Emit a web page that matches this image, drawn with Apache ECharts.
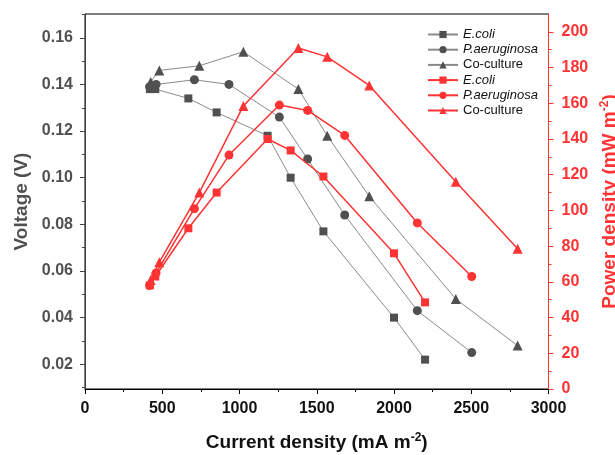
<!DOCTYPE html>
<html>
<head>
<meta charset="utf-8">
<script src="https://cdn.jsdelivr.net/npm/echarts@6/dist/echarts.min.js"></script>
<style>html,body{margin:0;padding:0;background:#fff;}#c{width:615px;height:455px;}</style>
</head>
<body>
<div id="c"></div>
<script>
// Current density (mA m-2)
const ecoliI = [420, 455, 669, 852, 1182, 1331, 1543, 2000, 2201];
const paI = [418, 460, 708, 932, 1258, 1441, 1681, 2151, 2503];
const coI = [425, 481, 740, 1025, 1381, 1568, 1840, 2400, 2800];
// Voltage (V)
const ecoliV = [0.138, 0.138, 0.134, 0.128, 0.118, 0.100, 0.077, 0.040, 0.022];
const paV = [0.139, 0.140, 0.142, 0.140, 0.126, 0.108, 0.084, 0.043, 0.025];
const coV = [0.141, 0.146, 0.148, 0.154, 0.138, 0.118, 0.092, 0.048, 0.028];
// Power density (mW m-2)
const ecoliP = [58, 63, 90, 110, 140, 133.6, 119, 76, 48.5];
const paP = [58, 65, 101, 131, 159, 156, 142, 93, 63];
const coP = [61, 71, 110, 158.5, 191, 186, 170, 116, 78.5];
// Tick labels
const xTicks = [0, 500, 1000, 1500, 2000, 2500, 3000];
const vTicks = [0.02, 0.04, 0.06, 0.08, 0.10, 0.12, 0.14, 0.16];
const vMinor = [0.01, 0.03, 0.05, 0.07, 0.09, 0.11, 0.13, 0.15, 0.17];
const pTicks = [0, 20, 40, 60, 80, 100, 120, 140, 160, 180, 200];
const pMinor = [10, 30, 50, 70, 90, 110, 130, 150, 170, 190];

const FONT = 'Liberation Sans, Arial, sans-serif';
const GRAY = '#505050', GLINE = '#8a8a8a', RED = '#ff3333';
const zip = (a, b) => a.map((v, i) => [v, b[i]]);

const names = ['E.coli V', 'P.aeruginosa V', 'Co-culture V', 'E.coli P', 'P.aeruginosa P', 'Co-culture P'];
const labels = ['{i|E.coli}', '{i|P.aeruginosa}', '{n|Co-culture}', '{i|E.coli}', '{i|P.aeruginosa}', '{n|Co-culture}'];

function blackSeries(name, x, y, sym, size) {
  return { name, type: 'line', yAxisIndex: 0, data: zip(x, y), symbol: sym, symbolSize: size,
    itemStyle: { color: GRAY }, lineStyle: { color: GLINE, width: 1 }, z: 3 };
}
function redSeries(name, x, y, sym, size) {
  return { name, type: 'line', yAxisIndex: 2, data: zip(x, y), symbol: sym, symbolSize: size,
    itemStyle: { color: RED }, lineStyle: { color: RED, width: 1.5 }, z: 4 };
}

const legends = names.map((n, k) => ({
  data: [n], left: 427, top: 28 + k * 15.2, padding: 0, itemWidth: 30, itemHeight: 9, itemGap: 4,
  formatter: () => labels[k], selectedMode: false,
  textStyle: { fontFamily: FONT, fontSize: 13, color: '#111',
    rich: { i: { fontStyle: 'italic', fontFamily: FONT, fontSize: 13, color: '#111' },
            n: { fontFamily: FONT, fontSize: 13, color: '#111' } } }
}));

const labelFont = { fontFamily: FONT, fontSize: 16, fontWeight: 'bold' };

const option = {
  animation: false,
  backgroundColor: '#fff',
  grid: { left: 85, right: 66.5, top: 14, bottom: 66, outerBoundsMode: 'none', containLabel: false,
    show: true, borderColor: '#000', borderWidth: 1, backgroundColor: 'transparent' },
  legend: legends,
  xAxis: {
    type: 'value', min: 0, max: 3000, interval: 500,
    axisLine: { lineStyle: { color: '#000', width: 1 } },
    axisTick: { length: 5, lineStyle: { color: '#000' } },
    minorTick: { show: true, splitNumber: 2, length: 3, lineStyle: { color: '#000' } },
    splitLine: { show: false },
    axisLabel: Object.assign({ color: '#111', margin: 12, formatter: v => String(v) }, labelFont),
    name: '{a|Current density (mA m}{s|-2}{a|)}', nameLocation: 'middle', nameGap: 43,
    nameTextStyle: { rich: {
      a: { fontFamily: FONT, fontSize: 19, fontWeight: 'bold', color: '#111' },
      s: { fontFamily: FONT, fontSize: 12, fontWeight: 'bold', color: '#111', verticalAlign: 'top', padding: [0, 0, 9, 0] } } }
  },
  yAxis: [
    { type: 'value', position: 'left', min: 0.0094, max: 0.1702,
      axisLine: { show: true, lineStyle: { color: '#444' } },
      axisTick: { show: true, length: 5, customValues: vTicks, lineStyle: { color: '#444' } },
      axisLabel: Object.assign({ color: GRAY, margin: 12, customValues: vTicks, formatter: v => v.toFixed(2) }, labelFont),
      splitLine: { show: false },
      name: 'Voltage (V)', nameLocation: 'middle', nameGap: 51,
      nameTextStyle: { fontFamily: FONT, fontSize: 19, fontWeight: 'bold', color: GRAY } },
    { type: 'value', position: 'left', min: 0.0094, max: 0.1702,
      axisLine: { show: false },
      axisTick: { show: true, length: 3, customValues: vMinor, lineStyle: { color: '#444' } },
      axisLabel: { show: false }, splitLine: { show: false } },
    { type: 'value', position: 'right', min: 0, max: 210,
      axisLine: { show: true, lineStyle: { color: RED } },
      axisTick: { show: true, length: 5, customValues: pTicks, lineStyle: { color: RED } },
      axisLabel: Object.assign({ color: RED, margin: 13, customValues: pTicks, formatter: v => String(v) }, labelFont),
      splitLine: { show: false },
      name: '{a|Power density (mW m}{s|-2}{a|)}', nameLocation: 'middle', nameGap: 50, nameRotate: 90,
      nameTextStyle: { rich: {
        a: { fontFamily: FONT, fontSize: 19, fontWeight: 'bold', color: RED },
        s: { fontFamily: FONT, fontSize: 12, fontWeight: 'bold', color: RED, verticalAlign: 'top', padding: [0, 0, 9, 0] } } } },
    { type: 'value', position: 'right', min: 0, max: 210,
      axisLine: { show: false },
      axisTick: { show: true, length: 3, customValues: pMinor, lineStyle: { color: RED } },
      axisLabel: { show: false }, splitLine: { show: false } }
  ],
  series: [
    blackSeries(names[0], ecoliI, ecoliV, 'rect', 8),
    blackSeries(names[1], paI, paV, 'circle', 9),
    blackSeries(names[2], coI, coV, 'triangle', 10),
    redSeries(names[3], ecoliI, ecoliP, 'rect', 8),
    redSeries(names[4], paI, paP, 'circle', 9),
    redSeries(names[5], coI, coP, 'triangle', 10)
  ]
};
const chart = echarts.init(document.getElementById('c'), null, { renderer: 'canvas' });
chart.setOption(option);
</script>
</body>
</html>
